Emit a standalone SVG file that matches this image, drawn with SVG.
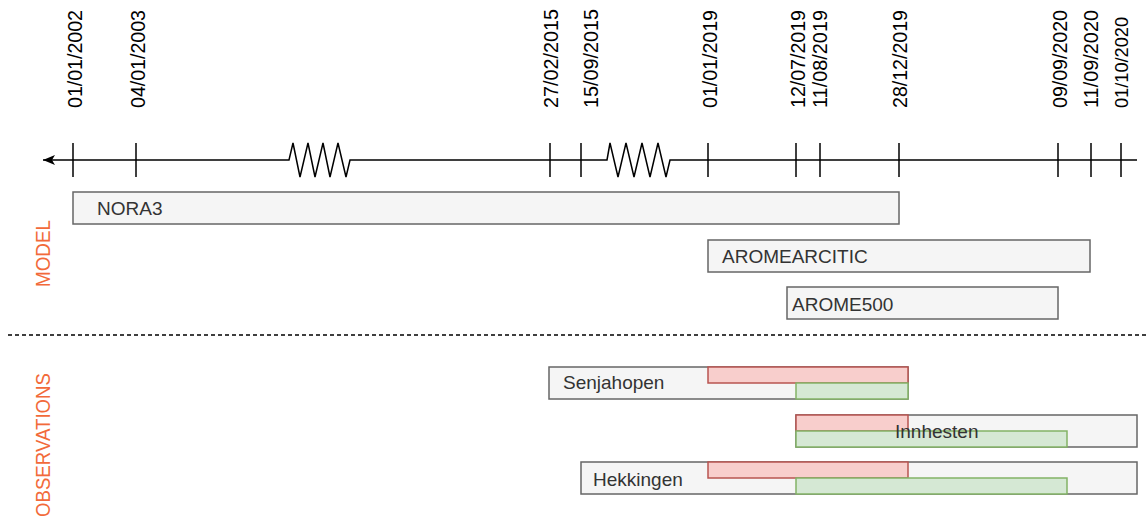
<svg xmlns="http://www.w3.org/2000/svg" width="1148" height="520" viewBox="0 0 1148 520">
<style>
.date{font-family:"Liberation Sans",Arial,sans-serif;font-size:21px;fill:#000}
.sec{font-family:"Liberation Sans",Arial,sans-serif;font-size:21px;fill:#f26a3a}
.lbl{font-family:"Liberation Sans",Arial,sans-serif;font-size:19px;fill:#333}
.box{fill:#f5f5f5;stroke:#666;stroke-width:1.5}
.red{fill:#f8cecc;stroke:#b85450;stroke-width:1.5}
.green{fill:#d5e8d4;stroke:#82b366;stroke-width:1.5}
.tick{stroke:#000;stroke-width:1.5}
</style>
<defs>
<marker id="arr" viewBox="0 0 12 10" refX="12" refY="5" markerWidth="12" markerHeight="10" markerUnits="userSpaceOnUse" orient="auto-start-reverse">
<path d="M0,0 L12,5 L0,10 L3,5 z" fill="#000"/>
</marker>
</defs>
<g id="connectors">
<path d="M43 160 H289 L293 143 L300 177 L308 143 L315 177 L323 143 L330 177 L338 143 L346 177 L350 160 H607 L610 143 L618 177 L626 143 L634 177 L642 143 L650 177 L658 143 L666 177 L670 160 H1137" fill="none" stroke="#000" stroke-width="1.5" marker-start="url(#arr)"/>
<path d="M8 335 H1148" stroke="#000" stroke-width="1.5" stroke-dasharray="4 3" fill="none"/>
</g>
<g id="ticks">
<line class="tick" x1="73" y1="143" x2="73" y2="177"/>
<line class="tick" x1="136" y1="143" x2="136" y2="177"/>
<line class="tick" x1="550" y1="143" x2="550" y2="177"/>
<line class="tick" x1="581" y1="143" x2="581" y2="177"/>
<line class="tick" x1="708" y1="143" x2="708" y2="177"/>
<line class="tick" x1="796" y1="143" x2="796" y2="177"/>
<line class="tick" x1="820" y1="143" x2="820" y2="177"/>
<line class="tick" x1="899" y1="143" x2="899" y2="177"/>
<line class="tick" x1="1058" y1="143" x2="1058" y2="177"/>
<line class="tick" x1="1091" y1="143" x2="1091" y2="177"/>
<line class="tick" x1="1121" y1="143" x2="1121" y2="177"/>
</g>
<g id="dates">
<text class="date" transform="translate(82,108) rotate(-90)" textLength="98" lengthAdjust="spacingAndGlyphs">01/01/2002</text>
<text class="date" transform="translate(145,108) rotate(-90)" textLength="98" lengthAdjust="spacingAndGlyphs">04/01/2003</text>
<text class="date" transform="translate(558,108) rotate(-90)" textLength="99" lengthAdjust="spacingAndGlyphs">27/02/2015</text>
<text class="date" transform="translate(598,108) rotate(-90)" textLength="99" lengthAdjust="spacingAndGlyphs">15/09/2015</text>
<text class="date" transform="translate(717,108) rotate(-90)" textLength="98" lengthAdjust="spacingAndGlyphs">01/01/2019</text>
<text class="date" transform="translate(805,108) rotate(-90)" textLength="98" lengthAdjust="spacingAndGlyphs">12/07/2019</text>
<text class="date" transform="translate(827,108) rotate(-90)" textLength="98" lengthAdjust="spacingAndGlyphs">11/08/2019</text>
<text class="date" transform="translate(907,108) rotate(-90)" textLength="98" lengthAdjust="spacingAndGlyphs">28/12/2019</text>
<text class="date" transform="translate(1067,108) rotate(-90)" textLength="98" lengthAdjust="spacingAndGlyphs">09/09/2020</text>
<text class="date" transform="translate(1098,108) rotate(-90)" textLength="98" lengthAdjust="spacingAndGlyphs">11/09/2020</text>
<text class="date" transform="translate(1128,108) rotate(-90)" textLength="91" lengthAdjust="spacingAndGlyphs" style="font-size:19px">01/10/2020</text>
</g>
<g id="section-model">
<text class="sec" transform="translate(50,287) rotate(-90)" textLength="67" lengthAdjust="spacingAndGlyphs">MODEL</text>
</g>
<g id="section-observations">
<text class="sec" transform="translate(50,517) rotate(-90)" textLength="144" lengthAdjust="spacingAndGlyphs">OBSERVATIONS</text>
</g>
<g id="nora3">
<rect class="box" x="73" y="192" width="826" height="32"/>
<text class="lbl" x="97" y="215">NORA3</text>
</g>
<g id="aromearcitic">
<rect class="box" x="708" y="240" width="382" height="32"/>
<text class="lbl" x="722" y="263">AROMEARCITIC</text>
</g>
<g id="arome500">
<rect class="box" x="787" y="287" width="271" height="32"/>
<text class="lbl" x="792" y="311">AROME500</text>
</g>
<g id="senjahopen">
<rect class="box" x="549" y="367" width="359" height="32"/>
<rect class="red" x="708" y="367" width="200" height="16"/>
<rect class="green" x="796" y="383" width="112" height="16"/>
<text class="lbl" x="563" y="389">Senjahopen</text>
</g>
<g id="innhesten">
<rect class="box" x="796" y="415" width="341" height="32"/>
<rect class="red" x="796" y="415" width="112" height="16"/>
<rect class="green" x="796" y="431" width="271" height="16"/>
<text class="lbl" x="895" y="438">Innhesten</text>
</g>
<g id="hekkingen">
<rect class="box" x="581" y="462" width="556" height="32"/>
<rect class="red" x="708" y="462" width="200" height="16"/>
<rect class="green" x="796" y="478" width="271" height="16"/>
<text class="lbl" x="593" y="486">Hekkingen</text>
</g>
</svg>
